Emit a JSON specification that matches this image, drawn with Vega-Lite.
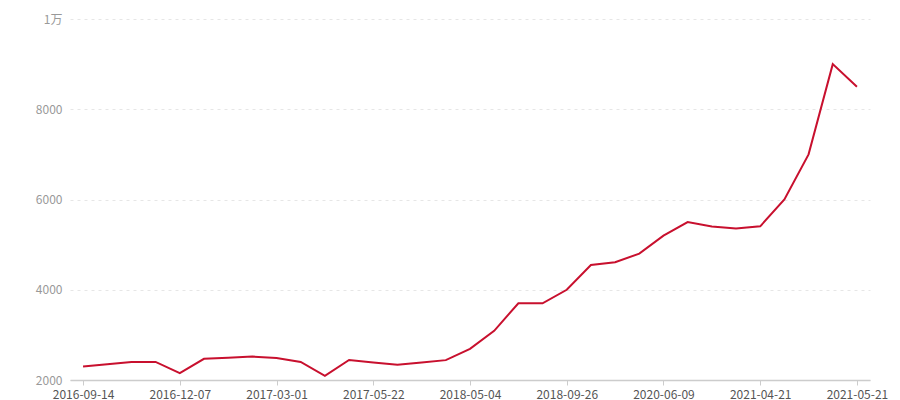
{
  "$schema": "https://vega.github.io/schema/vega-lite/v6.json",
  "width": 800,
  "height": 361,
  "autosize": {"type": "none"},
  "padding": {"left": 70, "top": 19, "right": 30, "bottom": 20},
  "background": "#ffffff",
  "config": {"view": {"stroke": null}, "font": "Noto Sans CJK SC"},
  "data": {
    "values": [
      {"date": "2016-09-14", "value": 2300},
      {"date": "2016-10-05", "value": 2350},
      {"date": "2016-10-26", "value": 2400},
      {"date": "2016-11-16", "value": 2400},
      {"date": "2016-12-07", "value": 2150},
      {"date": "2016-12-28", "value": 2470},
      {"date": "2017-01-18", "value": 2495},
      {"date": "2017-02-08", "value": 2520},
      {"date": "2017-03-01", "value": 2490},
      {"date": "2017-03-22", "value": 2400},
      {"date": "2017-04-12", "value": 2090},
      {"date": "2017-05-01", "value": 2445},
      {"date": "2017-05-22", "value": 2390},
      {"date": "2017-08-15", "value": 2340},
      {"date": "2017-11-08", "value": 2390},
      {"date": "2018-02-06", "value": 2440},
      {"date": "2018-05-04", "value": 2690},
      {"date": "2018-06-08", "value": 3090},
      {"date": "2018-07-13", "value": 3700},
      {"date": "2018-08-20", "value": 3700},
      {"date": "2018-09-26", "value": 4000},
      {"date": "2019-04-10", "value": 4550},
      {"date": "2019-09-18", "value": 4610},
      {"date": "2020-01-15", "value": 4800},
      {"date": "2020-06-09", "value": 5200},
      {"date": "2020-09-01", "value": 5500},
      {"date": "2020-11-20", "value": 5400},
      {"date": "2021-02-03", "value": 5355},
      {"date": "2021-04-21", "value": 5405},
      {"date": "2021-04-29", "value": 6000},
      {"date": "2021-05-06", "value": 7000},
      {"date": "2021-05-13", "value": 9000},
      {"date": "2021-05-21", "value": 8500}
    ]
  },
  "mark": {"type": "line", "color": "#c8102e", "strokeWidth": 2},
  "encoding": {
    "x": {
      "field": "date",
      "type": "ordinal",
      "sort": null,
      "scale": {"type": "point", "padding": 0.54},
      "axis": {
        "title": null,
        "values": ["2016-09-14", "2016-12-07", "2017-03-01", "2017-05-22", "2018-05-04", "2018-09-26", "2020-06-09", "2021-04-21", "2021-05-21"],
        "labelAngle": 0,
        "labelColor": "#555555",
        "labelFontSize": 12,
        "labelPadding": 4,
        "tickColor": "#cccccc",
        "tickSize": 5,
        "domainColor": "#cccccc",
        "domainWidth": 1.5,
        "grid": false
      }
    },
    "y": {
      "field": "value",
      "type": "quantitative",
      "scale": {"domain": [2000, 10000], "nice": false},
      "axis": {
        "title": null,
        "values": [2000, 4000, 6000, 8000, 10000],
        "labelExpr": "datum.value >= 10000 ? (datum.value / 10000) + '万' : '' + datum.value",
        "labelColor": "#999999",
        "labelFontSize": 12,
        "labelPadding": 8,
        "domain": false,
        "ticks": false,
        "grid": true,
        "gridColor": "#e6e6e6",
        "gridDash": [3, 4],
        "gridWidth": 1
      }
    }
  }
}
